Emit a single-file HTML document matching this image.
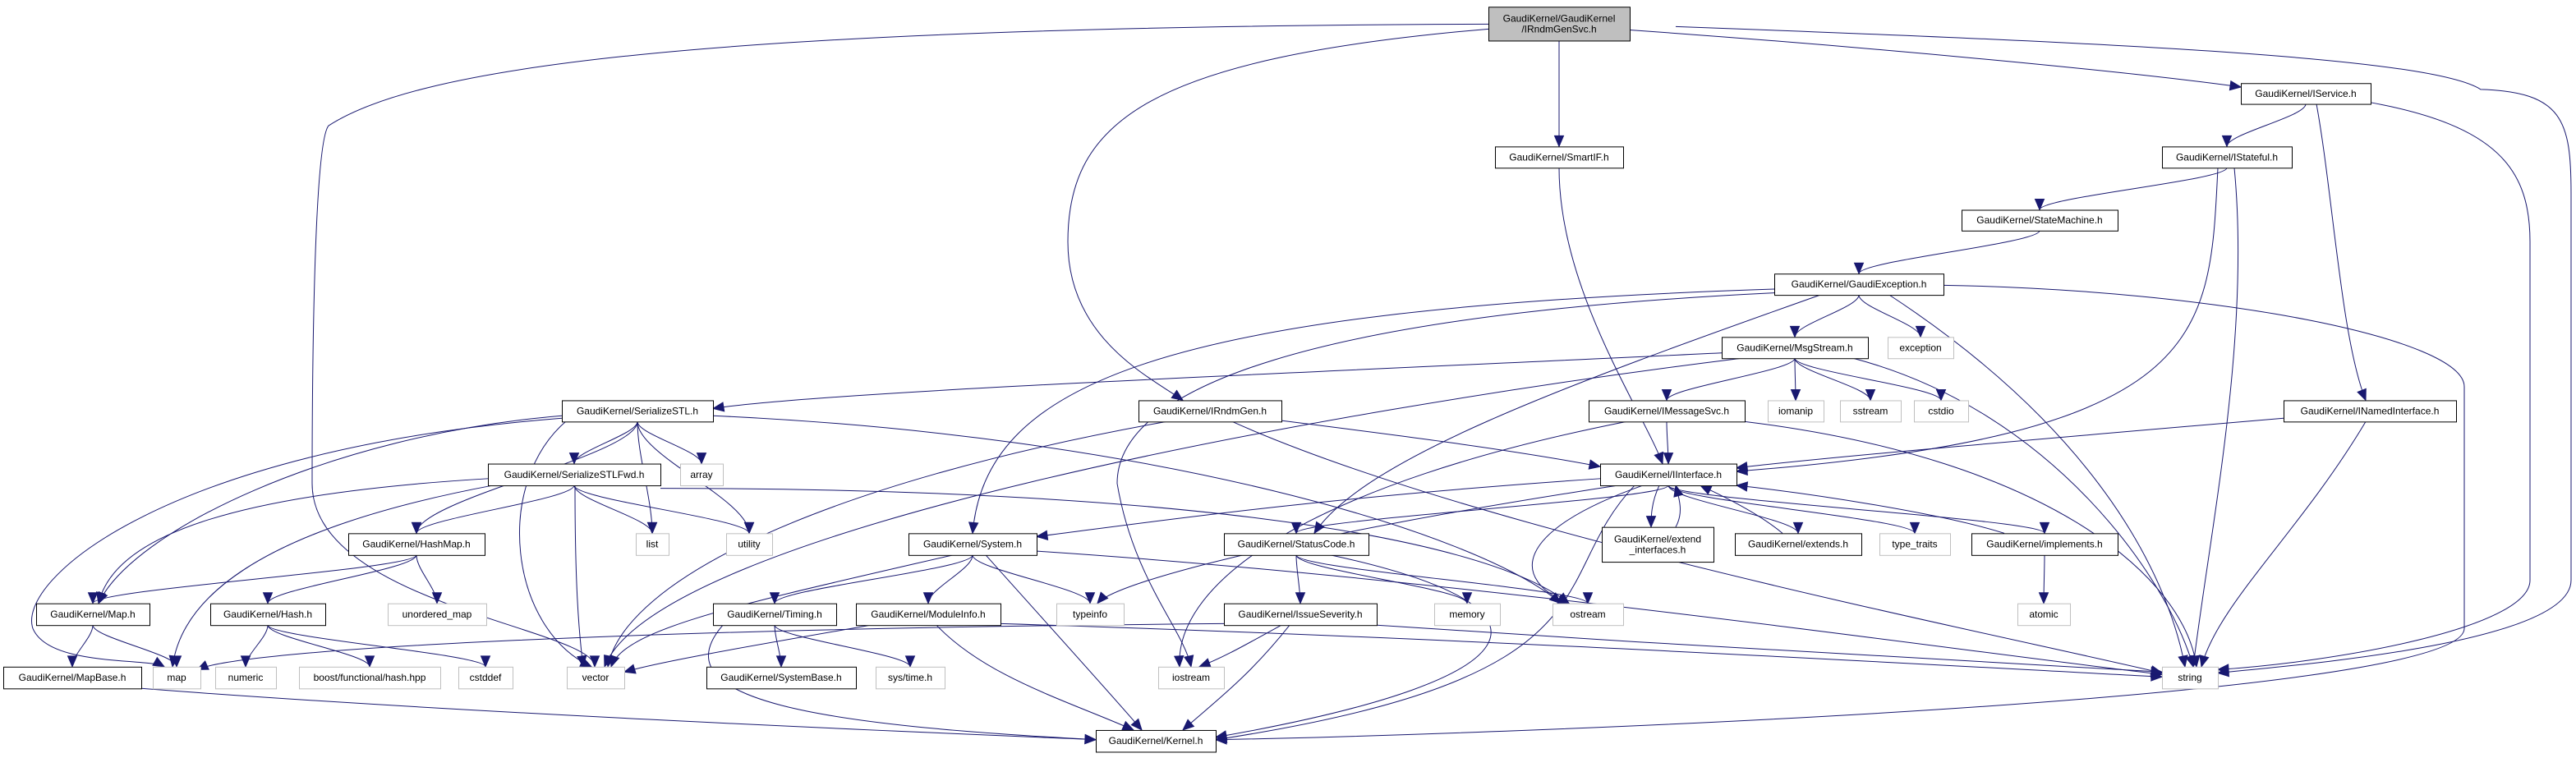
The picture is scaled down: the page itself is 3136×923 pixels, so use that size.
<!DOCTYPE html>
<html><head><meta charset="utf-8"><style>
html,body{margin:0;padding:0;background:#fff;width:3136px;height:923px;overflow:hidden}
svg{display:block}
text{font-family:"Liberation Sans",sans-serif;font-size:12px;fill:#000}
</style></head><body>
<svg id="g" xmlns="http://www.w3.org/2000/svg" width="3136" height="923" viewBox="0 0 3136 923"></svg>
<script>
var SX=2,SY=0.5887;
var N={
svc:[906,992,14,84,["GaudiKernel/GaudiKernel","/IRndmGenSvc.h"],'f'],
iservice:[1364,1443,172,215,["GaudiKernel/IService.h"],'b'],
smartif:[910,988,303,347,["GaudiKernel/SmartIF.h"],'b'],
istateful:[1316,1395,303,347,["GaudiKernel/IStateful.h"],'b'],
statem:[1194,1289,434,477,["GaudiKernel/StateMachine.h"],'b'],
gexc:[1080,1183,566,610,["GaudiKernel/GaudiException.h"],'b'],
msg:[1048,1137,697,741,["GaudiKernel/MsgStream.h"],'b'],
exception:[1149,1189,697,741,["exception"],'g'],
sstl:[342,434,828,872,["GaudiKernel/SerializeSTL.h"],'b'],
irndm:[693,780,828,872,["GaudiKernel/IRndmGen.h"],'b'],
imsg:[967,1062,828,872,["GaudiKernel/IMessageSvc.h"],'b'],
iomanip:[1076,1110,828,872,["iomanip"],'g'],
sstream:[1120,1157,828,872,["sstream"],'g'],
cstdio:[1165,1198,828,872,["cstdio"],'g'],
inamed:[1390,1495,828,872,["GaudiKernel/INamedInterface.h"],'b'],
sfwd:[297,402,959,1004,["GaudiKernel/SerializeSTLFwd.h"],'b'],
array:[414,440,959,1004,["array"],'g'],
iint:[974,1057,959,1004,["GaudiKernel/IInterface.h"],'b'],
hashmap:[212,295,1103,1148,["GaudiKernel/HashMap.h"],'b'],
list:[387,407,1103,1148,["list"],'g'],
utility:[442,470,1103,1148,["utility"],'g'],
system:[553,631,1103,1148,["GaudiKernel/System.h"],'b'],
status:[745,833,1103,1148,["GaudiKernel/StatusCode.h"],'b'],
extint:[975,1043,1090,1162,["GaudiKernel/extend","_interfaces.h"],'b'],
extends:[1056,1133,1103,1148,["GaudiKernel/extends.h"],'b'],
tt:[1144,1187,1103,1148,["type_traits"],'g'],
impl:[1200,1289,1103,1148,["GaudiKernel/implements.h"],'b'],
map_h:[22,91,1248,1293,["GaudiKernel/Map.h"],'b'],
hash:[128,198,1248,1293,["GaudiKernel/Hash.h"],'b'],
umap:[236,296,1248,1293,["unordered_map"],'g'],
timing:[434,509,1248,1293,["GaudiKernel/Timing.h"],'b'],
modinfo:[521,609,1248,1293,["GaudiKernel/ModuleInfo.h"],'b'],
typeinfo:[643,684,1248,1293,["typeinfo"],'g'],
issue:[745,838,1248,1293,["GaudiKernel/IssueSeverity.h"],'b'],
memory:[873,913,1248,1293,["memory"],'g'],
ostream:[945,988,1248,1293,["ostream"],'g'],
atomic:[1228,1260,1248,1293,["atomic"],'g'],
mapbase:[2,86,1379,1424,["GaudiKernel/MapBase.h"],'b'],
map:[93,122,1379,1424,["map"],'g'],
numeric:[131,168,1379,1424,["numeric"],'g'],
boost:[182,268,1379,1424,["boost/functional/hash.hpp"],'g'],
cstddef:[279,312,1379,1424,["cstddef"],'g'],
vector:[345,380,1379,1424,["vector"],'g'],
sysbase:[430,521,1379,1424,["GaudiKernel/SystemBase.h"],'b'],
systime:[533,575,1379,1424,["sys/time.h"],'g'],
iostream:[705,745,1379,1424,["iostream"],'g'],
string:[1316,1350,1379,1424,["string"],'g'],
kernel:[667,740,1510,1555,["GaudiKernel/Kernel.h"],'b']
};
var E=[
['svc','vector',[906,50,400,55,250,150,200,260,190,300,190,900,190,1000,190,1250,362,1300,362,1379]],
['svc','string',[1020,55,1300,90,1480,120,1510,185,1560,190,1565,250,1565,400,1565,800,1565,1200,1565,1200,1565,1330,1400,1375,1350,1392]],
['svc','irndm',[906,60,700,120,650,250,650,500,650,700,700,780,720,828]],
['svc','iservice',[992,62,1150,100,1300,150,1364,180]],
['svc','smartif'],
['iservice','istateful'],
['iservice','inamed',[1410,215,1420,400,1425,700,1440,828]],
['iservice','string',[1443,212,1520,260,1540,350,1540,500,1540,800,1540,1200,1540,1200,1540,1300,1420,1370,1350,1385]],
['smartif','iint',[949,347,949,600,1000,850,1012,959]],
['istateful','statem'],
['istateful','iint',[1350,347,1345,700,1345,900,1057,975]],
['istateful','string',[1360,347,1370,700,1345,1100,1335,1379]],
['statem','gexc'],
['gexc','msg'],['gexc','exception'],
['gexc','system',[1080,598,700,640,600,800,592,1103]],
['gexc','status',[1108,610,950,800,830,950,800,1103]],
['gexc','iostream',[1085,605,800,650,680,800,680,1000,690,1200,720,1300,725,1379]],
['gexc','string',[1150,610,1280,900,1320,1200,1330,1379]],
['gexc','kernel',[1183,590,1350,600,1500,700,1500,800,1500,1000,1500,1300,1500,1300,1500,1450,900,1520,740,1530]],
['msg','sstl',[1048,730,800,770,500,810,434,845]],
['msg','imsg'],['msg','iomanip'],['msg','sstream'],['msg','cstdio'],
['msg','vector',[1060,741,800,850,400,1100,368,1379]],
['msg','string',[1128,741,1250,850,1320,1200,1335,1379]],
['irndm','iint',[780,870,850,900,920,930,974,965]],
['irndm','vector',[710,872,500,1000,380,1200,370,1379]],
['irndm','string',[750,872,900,1100,1200,1300,1316,1392]],
['imsg','iint'],
['imsg','string',[1062,872,1250,950,1330,1200,1337,1379]],
['imsg','iostream',[990,872,800,1000,715,1200,718,1379]],
['inamed','iint',[1390,865,1200,920,1100,950,1057,968]],
['inamed','string',[1440,872,1400,1100,1350,1250,1340,1379]],
['iint','system',[974,990,800,1030,700,1080,631,1110]],
['iint','status'],
['iint','extint',[1010,1004,1005,1040,1005,1070,1005,1090]],
['extint','iint',[1020,1090,1025,1060,1022,1030,1020,1004]],
['iint','extends'],['extends','iint',[1085,1103,1070,1060,1045,1020,1035,1004]],
['iint','tt'],['iint','impl'],['impl','iint',[1220,1103,1180,1060,1100,1020,1057,1004]],
['impl','atomic'],
['iint','typeinfo',[985,1004,800,1100,680,1200,668,1248]],
['iint','ostream',[1000,1004,920,1100,920,1200,955,1248]],
['iint','kernel',[995,1004,940,1200,990,1400,740,1530]],
['sstl','sfwd'],['sstl','array'],['sstl','list'],['sstl','utility'],['sstl','hashmap'],
['sstl','map_h',[342,860,200,900,80,1100,60,1248]],
['sstl','map',[342,865,100,930,10,1200,20,1300,30,1380,90,1360,100,1379]],
['sstl','vector',[345,870,300,1000,310,1300,360,1379]],
['sstl','ostream',[434,860,700,900,900,1100,950,1248]],
['sfwd','hashmap'],['sfwd','list'],['sfwd','utility'],
['sfwd','map_h',[297,990,150,1020,70,1100,60,1248]],
['sfwd','map',[300,1004,150,1100,110,1250,105,1379]],
['sfwd','vector',[350,1004,350,1200,352,1300,355,1379]],
['sfwd','ostream',[402,1010,700,1010,900,1100,955,1248]],
['hashmap','map_h'],['hashmap','hash'],['hashmap','umap'],
['system','timing'],['system','modinfo'],['system','typeinfo'],
['system','vector',[580,1148,450,1250,380,1300,372,1379]],
['system','string',[631,1140,900,1200,1200,1350,1316,1395]],
['system','kernel',[600,1148,640,1300,680,1450,695,1510]],
['status','issue'],['status','memory'],['status','ostream'],
['status','kernel',[810,1148,950,1250,950,1400,740,1525]],
['map_h','mapbase'],['map_h','map'],
['hash','numeric'],['hash','boost'],['hash','cstddef'],
['timing','sysbase'],['timing','systime'],
['timing','kernel',[440,1293,400,1450,500,1500,667,1530]],
['modinfo','vector',[530,1293,450,1340,400,1370,380,1390]],
['modinfo','string',[609,1290,900,1320,1200,1380,1316,1400]],
['modinfo','kernel',[570,1293,600,1400,650,1450,690,1510]],
['issue','map',[745,1290,400,1300,150,1340,120,1385]],
['issue','iostream',[780,1293,760,1330,745,1360,730,1379]],
['issue','string',[838,1293,1000,1330,1200,1370,1316,1390]],
['issue','kernel',[785,1293,760,1400,740,1450,720,1510]],
['mapbase','kernel',[86,1424,300,1480,600,1520,667,1530]]
];
var NS='http://www.w3.org/2000/svg',svg=document.getElementById('g');
function el(t,a){var e=document.createElementNS(NS,t);for(var k in a)e.setAttribute(k,a[k]);svg.appendChild(e);return e;}
var C='#191970';
function R(n){var b=N[n];return {x1:b[0]*SX,x2:b[1]*SX,y1:b[2]*SY,y2:b[3]*SY};}
E.forEach(function(e){
 var p;
 if(e[2]){p=e[2].map(function(v,i){return i%2?v*SY:v*SX;});}
 else{var a=R(e[0]),b=R(e[1]);var sx=(a.x1+a.x2)/2,tx=(b.x1+b.x2)/2;
  var sy=a.y2,ty=b.y1; if(b.y2<a.y1){sy=a.y1;ty=b.y2;}
  var dy=(ty-sy)/2;p=[sx,sy,sx,sy+dy*0.6,tx,ty-dy*0.6,tx,ty];}
 var d='M'+p[0]+','+p[1];
 for(var i=2;i<p.length;i+=6)d+=' C'+p.slice(i,i+6).join(',');
 var ex=p[p.length-2],ey=p[p.length-1],px=p[p.length-4],py=p[p.length-3];
 var dx=ex-px,dy2=ey-py,L=Math.sqrt(dx*dx+dy2*dy2)||1;dx/=L;dy2/=L;
 var bx=ex-dx*13,by=ey-dy2*13;
 el('path',{d:d,fill:'none',stroke:C,'stroke-width':1});
 el('polygon',{points:ex+','+ey+' '+(bx-dy2*5.5)+','+(by+dx*5.5)+' '+(bx+dy2*5.5)+','+(by-dx*5.5),fill:C,stroke:C});
});
for(var k in N){var b=N[k],r=R(k);var w=r.x2-r.x1,h=r.y2-r.y1;
 el('rect',{x:r.x1+0.5,y:r.y1+0.5,width:w,height:h,fill:b[5]=='f'?'#bfbfbf':'#fff',stroke:b[5]=='g'?'#bfbfbf':'#000','stroke-width':1});
 var lines=b[4],cy=(r.y1+r.y2)/2;
 lines.forEach(function(s,i){var y=cy+4+(i-(lines.length-1)/2)*13;
  var t=el('text',{x:(r.x1+r.x2)/2,y:y,'text-anchor':'middle'});t.textContent=s;
  var tw=t.getComputedTextLength(),mx=w-10;if(tw>mx){t.setAttribute('textLength',mx);t.setAttribute('lengthAdjust','spacingAndGlyphs');}
 });}
</script>
</body></html>
